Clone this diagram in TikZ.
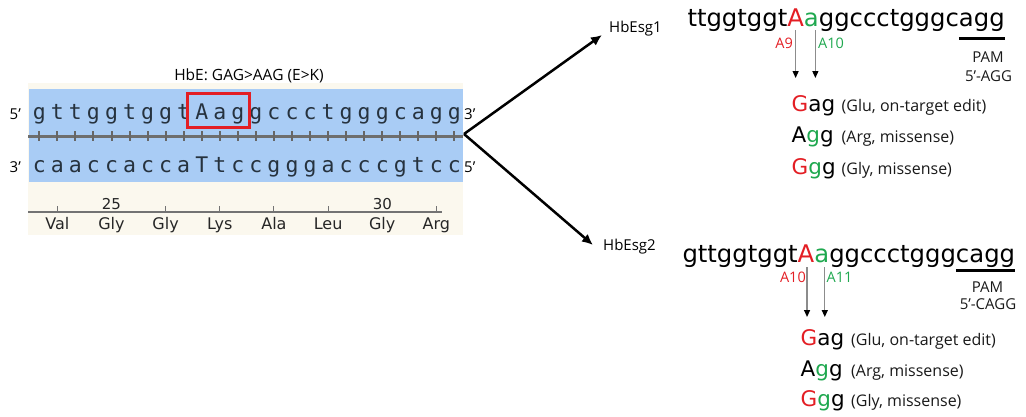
\documentclass[tikz,border=0pt]{standalone}
\usepackage{fontspec}
\setmainfont{Open Sans}
\newfontfamily\djv{DejaVu Sans}
\newfontfamily\djvmono{DejaVu Sans Mono}
\usetikzlibrary{arrows.meta}
\definecolor{redA}{HTML}{E31E24}
\definecolor{greenA}{HTML}{1FA84F}
\definecolor{panelbg}{HTML}{FBF8EE}
\definecolor{bandblue}{HTML}{A9CCF5}
\definecolor{seqink}{HTML}{26323E}
\definecolor{midgray}{HTML}{6E6E6E}
\begin{document}
\begin{tikzpicture}[x=1pt,y=-1pt,
  mono/.style={font=\djvmono\fontsize{21.5}{21.5}\selectfont, text=seqink, inner sep=0, outer sep=0, anchor=base},
  endlab/.style={font=\fontsize{15}{15}\selectfont, inner sep=0, anchor=base west},
  aalab/.style={font=\djv\fontsize{16}{16}\selectfont, text=black!85, inner sep=0, anchor=base},
  bigseq/.style={font=\djv\fontsize{24.3}{24.3}\selectfont, inner sep=0, outer sep=0, anchor=base west},
  edlab/.style={font=\fontsize{14.5}{14.5}\selectfont, inner sep=0},
  pamlab/.style={font=\fontsize{15}{15}\selectfont, text=black!90, inner sep=0, anchor=base},
  resbig/.style={font=\djv\fontsize{21.5}{21.5}\selectfont, inner sep=0, anchor=base west},
  reslab/.style={font=\fontsize{16}{16}\selectfont, text=black!90, inner sep=0, anchor=base west},
  sglab/.style={font=\fontsize{15}{15}\selectfont, inner sep=0, anchor=base west},
  editarrow/.style={draw=black!45, line width=1.2pt, -{Triangle[width=6pt,length=7pt,color=black]}},
  bigarrow/.style={draw=black, line width=2.5pt, -{Latex[length=11pt,width=10pt]}},
  pamline/.style={draw=black, line width=3pt}
]
\useasboundingbox (0,0) rectangle (1026,416);

% ---------- left panel ----------
\fill[panelbg] (28,83) rectangle (463,235);
\fill[bandblue] (29,89) rectangle (463,182);

\node[font=\fontsize{15.5}{15.5}\selectfont, anchor=base, inner sep=0] (title) at (249,80) {HbE: GAG>AAG (E>K)};

% midline with ticks
\draw[midgray, line width=3pt] (28,136) -- (463,136);
\foreach \i in {0,...,23}
  \draw[black!60, line width=2pt] ({39.3+18.05*\i},131) -- ({39.3+18.05*\i},141);

% top strand
\foreach \c [count=\i from 0] in {g,t,t,g,g,t,g,g,t,A,a,g,g,c,c,c,t,g,g,g,c,a,g,g}
  \node[mono] (top\i) at ({39.3+18.05*\i},119) {\c};
% bottom strand
\foreach \c [count=\i from 0] in {c,a,a,c,c,a,c,c,a,T,t,c,c,g,g,g,a,c,c,c,g,t,c,c}
  \node[mono] (bot\i) at ({39.3+18.05*\i},172) {\c};

\draw[redA, line width=3pt] (187,93) rectangle (249,127);

\node[endlab] (l5) at (9.5,119) {5’};
\node[endlab] (l3) at (9.5,172) {3’};
\node[endlab] (r3) at (464,119) {3’};
\node[endlab] (r5) at (464,172) {5’};

% ruler
\draw[black!55, line width=1.5pt] (28,212) -- (442,212);
\foreach \k in {0,2,3,4,5,7}
  \draw[black!55, line width=1pt] ({57.35+54.15*\k},206) -- ({57.35+54.15*\k},212);
\node[aalab, font=\djv\fontsize{15}{15}\selectfont] (n25) at (111.5,209) {25};
\node[aalab, font=\djv\fontsize{15}{15}\selectfont] (n30) at (382.3,209) {30};
\foreach \a [count=\k from 0] in {Val,Gly,Gly,Lys,Ala,Leu,Gly,Arg}
  \node[aalab] (aa\k) at ({57.35+54.15*\k},229) {\a};

% ---------- fork arrows ----------
\coordinate (fork) at (464,134);
\coordinate (tip1) at (602,35);
\coordinate (tip2) at (593,245);
\draw[bigarrow] (fork) -- (tip1);
\draw[bigarrow] (fork) -- (tip2);

\node[sglab] (sg1) at (609,32) {HbEsg1};
\node[sglab] (sg2) at (603,250) {HbEsg2};

% ---------- HbEsg1 ----------
\node[bigseq] (p1) at (687.5,26.7) {ttggtggt};
\node[bigseq, text=redA] (A1) at (p1.base east) {A};
\node[bigseq, text=greenA] (a1) at (A1.base east) {a};
\node[bigseq] (m1) at (a1.base east) {ggccctgggc};
\node[bigseq] (pam1) at (m1.base east) {agg};
\draw[pamline] ([yshift=-11.6pt]pam1.base west) -- ([yshift=-11.6pt]pam1.base east);

\draw[editarrow] ([yshift=-3.5pt]A1.base) -- ([yshift=-51.3pt]A1.base);
\draw[editarrow] ([xshift=4pt,yshift=-3.5pt]a1.base) -- ([xshift=4pt,yshift=-51.3pt]a1.base);
\node[edlab, text=redA, anchor=base east] (e9) at (793,48.5) {A9};
\node[edlab, text=greenA, anchor=base west] (e10) at (818,48.5) {A10};

\node[pamlab] (pamt1) at (988,62) {PAM};
\node[pamlab] (pams1) at (988.5,81) {5’-AGG};

\node[resbig] (r11) at (791.5,111) {\textcolor{redA}{G}ag};
\node[resbig] (r12) at (791.5,142.3) {A\textcolor{greenA}{g}g};
\node[resbig] (r13) at (791.5,174.3) {\textcolor{redA}{G}\textcolor{greenA}{g}g};
\node[reslab] (d11) at (841.5,111) {(Glu, on-target edit)};
\node[reslab] (d12) at (841.5,142.3) {(Arg, missense)};
\node[reslab] (d13) at (841.5,174.3) {(Gly, missense)};

% ---------- HbEsg2 ----------
\node[bigseq] (p2) at (682.5,262) {gttggtggt};
\node[bigseq, text=redA] (A2) at (p2.base east) {A};
\node[bigseq, text=greenA] (a2) at (A2.base east) {a};
\node[bigseq] (m2) at (a2.base east) {ggccctggg};
\node[bigseq] (pam2) at (m2.base east) {cagg};
\draw[pamline] ([yshift=-8.5pt]pam2.base west) -- ([yshift=-8.5pt]pam2.base east);

\draw[editarrow] ([xshift=1pt,yshift=-5pt]A2.base) -- ([xshift=1pt,yshift=-55pt]A2.base);
\draw[editarrow] ([xshift=3pt,yshift=-5pt]a2.base) -- ([xshift=3pt,yshift=-55pt]a2.base);
\node[edlab, text=redA, anchor=base east] (f10) at (806,282) {A10};
\node[edlab, text=greenA, anchor=base west] (f11) at (826.5,282) {A11};

\node[pamlab] (pamt2) at (987.5,292) {PAM};
\node[pamlab] (pams2) at (988,309.5) {5’-CAGG};

\node[resbig] (r21) at (800.5,345.7) {\textcolor{redA}{G}ag};
\node[resbig] (r22) at (800.5,376.7) {A\textcolor{greenA}{g}g};
\node[resbig] (r23) at (800.5,406.7) {\textcolor{redA}{G}\textcolor{greenA}{g}g};
\node[reslab] (d21) at (851,345.7) {(Glu, on-target edit)};
\node[reslab] (d22) at (851,376.7) {(Arg, missense)};
\node[reslab] (d23) at (851,406.7) {(Gly, missense)};
\end{tikzpicture}
\end{document}
